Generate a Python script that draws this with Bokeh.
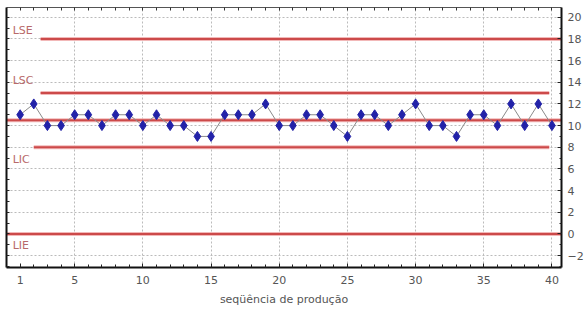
from bokeh.plotting import figure
from bokeh.models import LinearAxis, FixedTicker, Range1d, ColumnDataSource
from bokeh.core.properties import value
from bokeh.embed import file_html
from bokeh.resources import INLINE

# ---- data ----
sequence = list(range(1, 41))
measurements = [11, 12, 10, 10, 11, 11, 10, 11, 11, 10,
                11, 10, 10, 9, 9, 11, 11, 11, 12, 10,
                10, 11, 11, 10, 9, 11, 11, 10, 11, 12,
                10, 10, 9, 11, 11, 10, 12, 10, 12, 10]
limit_names = ["LSE", "LSC", "LM", "LIC", "LIE"]
limit_values = [18, 13, 10.5, 8, 0]
limit_start = [2.5, 2.5, 0, 2, 0]
limit_end = [40.7, 39.8, 40.7, 39.8, 40.7]
x_tick_labels = [1, 5, 10, 15, 20, 25, 30, 35, 40]
y_tick_labels = list(range(-2, 21, 2))
x_title = "seqüência de produção"

X0, X1 = 0, 40.7
Y0, Y1 = -3.1, 20.9

p = figure(width=586, height=312, x_range=Range1d(X0, X1), y_range=Range1d(Y0, Y1),
           output_backend="svg", toolbar_location=None, y_axis_location="right",
           min_border_left=6, min_border_top=7, min_border_right=0, min_border_bottom=45,
           background_fill_color="white", border_fill_color="white")
p.outline_line_color = None

FONT = "DejaVu Sans"
TXT = "#555555"

# bottom axis
xa = p.xaxis[0]
xa.ticker = FixedTicker(ticks=x_tick_labels, minor_ticks=sequence)
xa.axis_label = x_title
xa.axis_label_text_font = FONT
xa.axis_label_text_font_size = "11px"
xa.axis_label_text_font_style = "normal"
xa.axis_label_text_color = TXT
xa.axis_label_standoff = 6
xa.major_label_text_font = FONT
xa.major_label_text_font_size = "11px"
xa.major_label_text_color = TXT
xa.major_label_standoff = 8
xa.axis_line_color = "#111111"
xa.axis_line_width = 2
xa.major_tick_in = 4
xa.major_tick_out = 0
xa.minor_tick_in = 3
xa.minor_tick_out = 0
xa.major_tick_line_color = "#222222"
xa.minor_tick_line_color = "#222222"

# right axis
ya = p.yaxis[0]
ya.ticker = FixedTicker(ticks=y_tick_labels, minor_ticks=list(range(-3, 21)))
ya.major_label_text_font = FONT
ya.major_label_text_font_size = "11px"
ya.major_label_text_color = TXT
ya.major_label_standoff = 6
ya.axis_line_color = "#111111"
ya.axis_line_width = 2
ya.major_tick_in = 4
ya.major_tick_out = 0
ya.minor_tick_in = 2
ya.minor_tick_out = 0
ya.major_tick_line_color = "#222222"
ya.minor_tick_line_color = "#222222"

# left axis (ticks only, no labels)
la = LinearAxis(ticker=FixedTicker(ticks=[], minor_ticks=list(range(-3, 21))))
la.axis_line_color = "#111111"
la.axis_line_width = 2
la.minor_tick_in = 3
la.minor_tick_out = 0
la.minor_tick_line_color = "#222222"
la.major_label_standoff = 0
p.add_layout(la, "left")

# top axis (ticks only, no labels)
ta = LinearAxis(ticker=FixedTicker(ticks=[], minor_ticks=sequence))
ta.axis_line_color = "#555555"
ta.axis_line_width = 1
ta.minor_tick_in = 3
ta.minor_tick_out = 0
ta.minor_tick_line_color = "#333333"
ta.major_label_standoff = 0
p.add_layout(ta, "above")

# grids
p.xgrid.ticker = FixedTicker(ticks=[5, 10, 15, 20, 25, 30, 35, 40])
p.ygrid.ticker = FixedTicker(ticks=y_tick_labels)
for g in (p.xgrid, p.ygrid):
    g.grid_line_color = "#bbbbbb"
    g.grid_line_dash = "2 2"
    g.grid_line_width = 1

# control limits
lim = ColumnDataSource(dict(x0=limit_start, x1=limit_end, y=limit_values))
p.segment(x0="x0", y0="y", x1="x1", y1="y", source=lim, line_color="#f2b8b8", line_width=4)
p.segment(x0="x0", y0="y", x1="x1", y1="y", source=lim, line_color="#cc4a4a", line_width=2)

# limit labels
label_offsets = {"LSE": 0.8, "LSC": 1.2, "LIC": -1.1, "LIE": -1.1}
lab_names = [n for n in limit_names if n in label_offsets]
lab_y = [limit_values[limit_names.index(n)] + label_offsets[n] for n in lab_names]
p.text(x=[0.45] * len(lab_names), y=lab_y, text=lab_names,
       text_font=value(FONT), text_font_size="11px", text_color="#b86a6a",
       text_baseline="middle", text_align="left")

# data series
p.line(sequence, measurements, line_color="#8a8a8a", line_width=1)
p.scatter(sequence, measurements, marker="diamond", size=10,
          fill_color="#2222a8", line_color="#2222a8")

open("out.html", "w").write(file_html(p, INLINE))
